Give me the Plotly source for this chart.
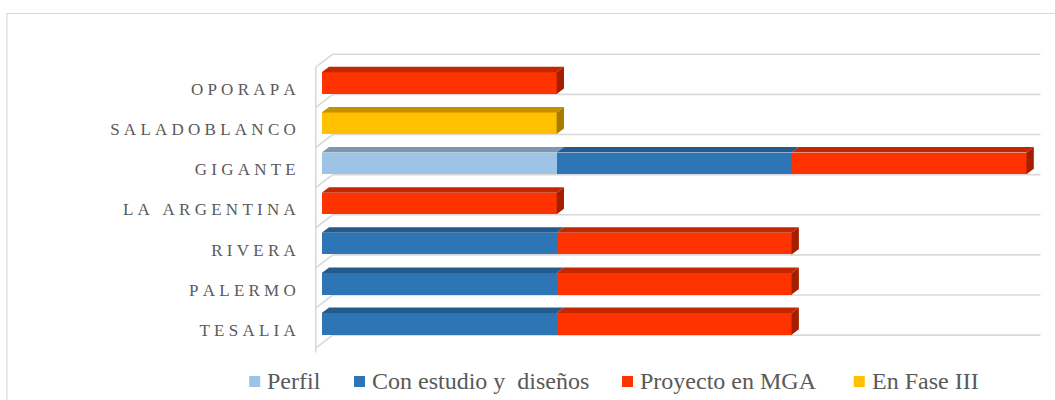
import plotly.graph_objects as go

# Data: number of projects per municipality and stage
categories = ["TESALIA", "PALERMO", "RIVERA", "LA ARGENTINA", "GIGANTE", "SALADOBLANCO", "OPORAPA"]
perfil = [0, 0, 0, 0, 1, 0, 0]
con_estudio = [1, 1, 1, 0, 1, 0, 0]
proyecto_mga = [1, 1, 1, 1, 1, 0, 1]
fase_iii = [0, 0, 0, 0, 0, 1, 0]

series_names = ["Perfil", "Con estudio y\u00a0 diseños", "Proyecto en MGA", "En Fase III"]
series_values = [perfil, con_estudio, proyecto_mga, fase_iii]
front_colors = ["#9DC3E6", "#2E75B6", "#FF3300", "#FFC000"]
top_colors = ["#7B97B3", "#245B8E", "#C42600", "#C39200"]
side_colors = ["#6E88A2", "#1F4E79", "#A31F00", "#A67C00"]

SERIF = "Liberation Serif, Times New Roman, serif"

# Layout geometry (pixels)
W, H = 1055, 400
PX_X = 234.7          # pixels per project on the value axis
PX_Y = 40.08          # pixels per category
X_RANGE = [-0.05, 3.1]
Y_RANGE = [-0.75, 6.85]
ZERO_PX = 322
CAT0_PX = 323.5

m_l = ZERO_PX + X_RANGE[0] * PX_X
plot_w = (X_RANGE[1] - X_RANGE[0]) * PX_X
m_r = W - m_l - plot_w
m_t = CAT0_PX - Y_RANGE[1] * PX_Y
plot_h = (Y_RANGE[1] - Y_RANGE[0]) * PX_Y
m_b = H - m_t - plot_h

BAR_W = 0.54
DX = 7.3 / PX_X       # depth offset of the 3D faces (x)
DY = 5.5 / PX_Y       # depth offset of the 3D faces (y)

GRID = "#D9D9D9"
TEXT = "#595959"

# Legend placement (left edge of each key square, pixels)
LEGEND_X = [249.5, 354.2, 622, 853.5]
LEGEND_Y = 381
KEY = 11
KEY_GAP = 17


def px_to_paper_x(px):
    return (px - m_l) / plot_w


def px_to_paper_y(py):
    return (H - m_b - py) / plot_h


ys = list(range(len(categories)))

fig = go.Figure()
for name, vals, col in zip(series_names, series_values, front_colors):
    fig.add_trace(go.Bar(
        y=ys, x=vals, name=name, orientation="h", width=BAR_W,
        marker=dict(color=col, line=dict(width=0)),
        hoverinfo="x+name", showlegend=False,
    ))

shapes = []

# Back wall and side wall lines
wall_back_x = 11 / PX_X
wall_front_x = -6 / PX_X
wall_end_x = 718 / PX_X
wall_drop = 13 / PX_Y
wall_shift = 0.22
bounds = [k - 0.5 + wall_shift for k in range(len(categories) + 1)]
for g in bounds:
    shapes.append(dict(type="line", xref="x", yref="y", x0=wall_back_x, x1=wall_end_x,
                       y0=g, y1=g, line=dict(color=GRID, width=1.6), layer="below"))
    shapes.append(dict(type="line", xref="x", yref="y", x0=wall_front_x, x1=wall_back_x,
                       y0=g - wall_drop, y1=g, line=dict(color=GRID, width=1.6), layer="below"))
shapes.append(dict(type="line", xref="x", yref="y", x0=wall_front_x, x1=wall_front_x,
                   y0=bounds[-1] - wall_drop, y1=-0.71, line=dict(color=GRID, width=1.6), layer="below"))

# 3D top faces for every segment and a side face on the end of each bar
for i in ys:
    left = 0.0
    last = None
    yt = i + BAR_W / 2
    yb = i - BAR_W / 2
    for s, vals in enumerate(series_values):
        v = vals[i]
        if v <= 0:
            continue
        x0, x1 = left, left + v
        shapes.append(dict(
            type="path", xref="x", yref="y",
            path=f"M {x0},{yt} L {x1},{yt} L {x1 + DX},{yt + DY} L {x0 + DX},{yt + DY} Z",
            fillcolor=top_colors[s], line=dict(width=0)))
        left = x1
        last = s
    if last is not None:
        shapes.append(dict(
            type="path", xref="x", yref="y",
            path=f"M {left},{yt} L {left + DX},{yt + DY} L {left + DX},{yb + DY} L {left},{yb} Z",
            fillcolor=side_colors[last], line=dict(width=0)))

# Outer chart border
shapes.append(dict(type="rect", xref="paper", yref="paper",
                   x0=px_to_paper_x(7.5), x1=px_to_paper_x(1070),
                   y0=px_to_paper_y(420), y1=px_to_paper_y(13.5),
                   line=dict(color=GRID, width=1.2), fillcolor="rgba(0,0,0,0)", layer="below"))

# Legend keys and labels
annotations = []
for lx, name, col in zip(LEGEND_X, series_names, front_colors):
    shapes.append(dict(type="rect", xref="paper", yref="paper",
                       x0=px_to_paper_x(lx), x1=px_to_paper_x(lx + KEY),
                       y0=px_to_paper_y(LEGEND_Y + KEY / 2), y1=px_to_paper_y(LEGEND_Y - KEY / 2),
                       fillcolor=col, line=dict(width=0)))
    annotations.append(dict(xref="paper", yref="paper", x=px_to_paper_x(lx + KEY_GAP),
                            y=px_to_paper_y(LEGEND_Y), xanchor="left", yanchor="middle",
                            text=name, showarrow=False, borderpad=0,
                            font=dict(family=SERIF, size=24, color=TEXT)))

# Wide letter spacing on the category labels
SP = "\u2005"
ticktext = [SP.join(list(c)) + SP for c in categories]

fig.update_layout(
    width=W, height=H,
    margin=dict(l=m_l, r=m_r, t=m_t, b=m_b, autoexpand=False),
    barmode="stack",
    paper_bgcolor="white", plot_bgcolor="white",
    font=dict(family=SERIF, color=TEXT),
    shapes=shapes,
    annotations=annotations,
    showlegend=False,
    xaxis=dict(range=X_RANGE, showgrid=False, zeroline=False, showticklabels=False,
               showline=False, ticks=""),
    yaxis=dict(range=Y_RANGE, tickvals=ys, ticktext=ticktext, showgrid=False,
               zeroline=False, showline=False, ticks="", ticklabelshift=6,
               ticklabelstandoff=9,
               tickfont=dict(family=SERIF, size=17, color=TEXT)),
)

fig.write_html("out.html")
